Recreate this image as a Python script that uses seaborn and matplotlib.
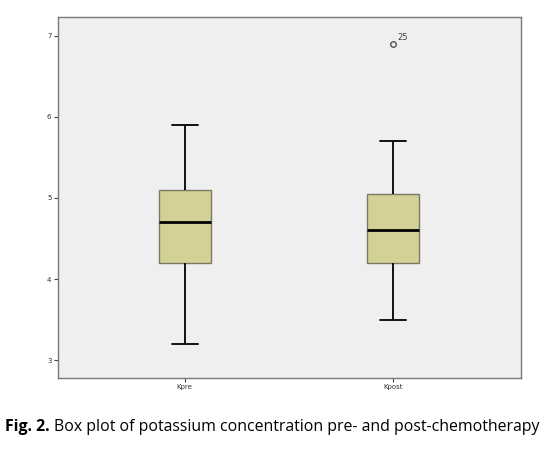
import pandas as pd
import seaborn as sns
import matplotlib.pyplot as plt

# --- DATA ---
groups = ["Kpre", "Kpost"]
kpre = [3.2, 4.2, 4.2, 4.5, 4.7, 4.9, 5.1, 5.1, 5.9]
kpost = [3.5, 4.2, 4.2, 4.4, 4.6, 4.8, 5.05, 5.7, 6.9]
outlier_value = 6.9
outlier_label = "25"
y_ticks = [3, 4, 5, 6, 7]

df = pd.DataFrame({
    "group": ["Kpre"] * len(kpre) + ["Kpost"] * len(kpost),
    "value": kpre + kpost,
})

sns.set_style("white")
plt.rcParams["font.family"] = ["DejaVu Sans"]

fig = plt.figure(figsize=(5.47, 4.58), dpi=100)
ax = fig.add_axes([0.1055, 0.1747, 0.847, 0.788])
ax.set_facecolor("#f0efef")

sns.boxplot(
    data=df, x="group", y="value", order=groups, ax=ax,
    width=0.25, color="#d3d196", saturation=1, whis=1.5,
    boxprops=dict(edgecolor="#7a7a62", linewidth=1.0),
    whiskerprops=dict(color="black", linewidth=1.3),
    capprops=dict(color="black", linewidth=1.3),
    medianprops=dict(color="black", linewidth=2.0),
    flierprops=dict(marker="o", markersize=4, markerfacecolor="none",
                    markeredgecolor="#555555", markeredgewidth=1.0),
)

ax.annotate(outlier_label, xy=(1, outlier_value), xytext=(3, 3),
            textcoords="offset points", fontsize=6, color="#444444")

ax.set_xlim(-0.61, 1.615)
ax.set_ylim(2.78, 7.23)
ax.set_yticks(y_ticks)
ax.set_yticklabels([str(t) for t in y_ticks])
ax.set_xlabel("")
ax.set_ylabel("")
ax.tick_params(axis="both", labelsize=5, length=3, width=0.8,
               direction="out", color="#444444", labelcolor="#333333", pad=1.5)
ax.tick_params(left=True, bottom=True)
for s in ax.spines.values():
    s.set_color("#777777")
    s.set_linewidth(1.0)

# caption
fig.text(0.009, 0.0677, "Fig. 2.", fontsize=11.4, fontweight="bold",
         family=["Open Sans"], va="center", ha="left", color="black")
fig.text(0.0987, 0.0677, "Box plot of potassium concentration pre- and post-chemotherapy",
         fontsize=11.4, family=["Open Sans"], va="center", ha="left", color="black")

plt.savefig("out.png", dpi=100)
